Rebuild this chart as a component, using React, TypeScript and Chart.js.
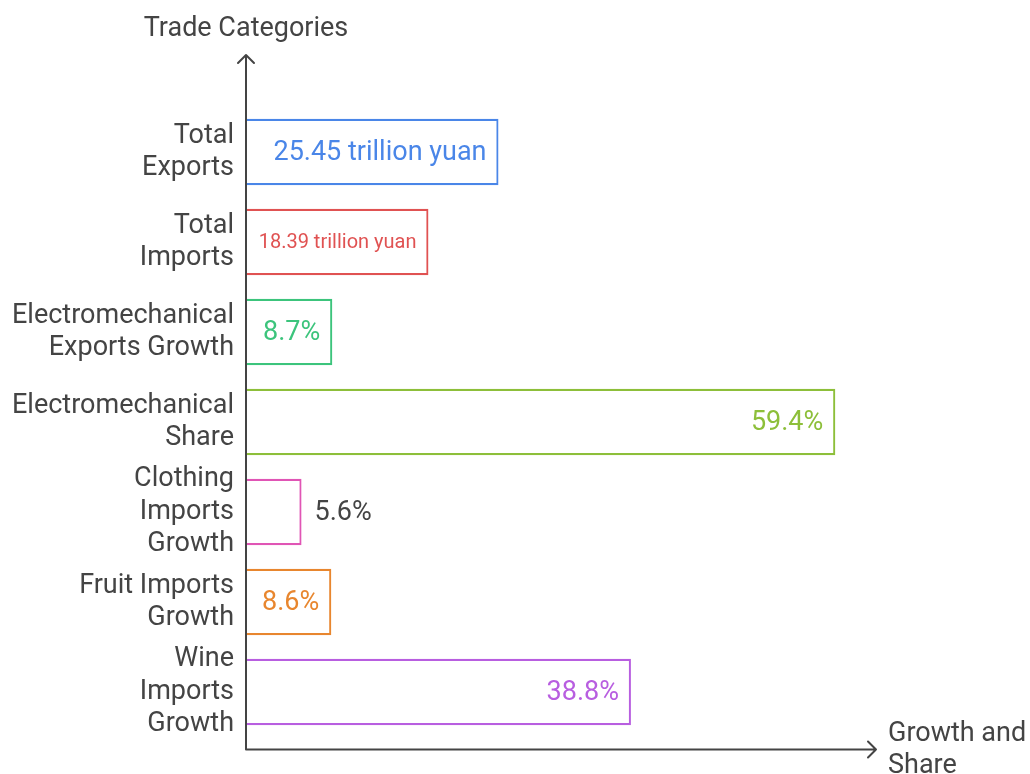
import React, { useEffect, useRef } from "react";
import { Chart, registerables } from "chart.js";

Chart.register(...registerables);

const categories: string[][] = [
  ["Total", "Exports"],
  ["Total", "Imports"],
  ["Electromechanical", "Exports Growth"],
  ["Electromechanical", "Share"],
  ["Clothing", "Imports", "Growth"],
  ["Fruit Imports", "Growth"],
  ["Wine", "Imports", "Growth"],
];
const values: number[] = [25.45, 18.39, 8.7, 59.4, 5.6, 8.6, 38.8];
const valueLabels: string[] = [
  "25.45 trillion yuan",
  "18.39 trillion yuan",
  "8.7%",
  "59.4%",
  "5.6%",
  "8.6%",
  "38.8%",
];
const barColors: string[] = [
  "#4a86e8",
  "#e05252",
  "#3cc47c",
  "#8dbf3a",
  "#e055b5",
  "#e8862e",
  "#b85ee0",
];
const yTitle = "Trade Categories";
const xTitle = ["Growth and", "Share"];

const FONT = "Roboto, 'Noto Sans', sans-serif";
const TEXT = "#444444";
const BASE = 27;
const MIN = 18;

const decorPlugin = {
  id: "decor",
  afterDatasetsDraw(chart: any) {
    const ctx = chart.ctx as CanvasRenderingContext2D;
    const area = chart.chartArea;
    const xScale = chart.scales.x;
    const meta = chart.getDatasetMeta(0);

    // value labels
    ctx.save();
    ctx.textBaseline = "middle";
    meta.data.forEach((bar: any, i: number) => {
      const label = valueLabels[i];
      const x0 = xScale.getPixelForValue(0);
      const x1 = bar.x;
      const w = x1 - x0;
      const pad = 12;
      let size = BASE;
      let placed = false;
      for (let s = BASE; s >= MIN; s -= 1) {
        ctx.font = `${s}px ${FONT}`;
        const tw = ctx.measureText(label).width;
        if (tw + 22 <= w) {
          size = s;
          placed = true;
          break;
        }
      }
      if (placed) {
        ctx.font = `${size}px ${FONT}`;
        ctx.fillStyle = barColors[i];
        ctx.textAlign = "right";
        ctx.fillText(label, x1 - pad, bar.y + 1);
      } else {
        ctx.font = `${BASE}px ${FONT}`;
        ctx.fillStyle = TEXT;
        ctx.textAlign = "left";
        ctx.fillText(label, x1 + pad + 1, bar.y + 1);
      }
    });
    ctx.restore();

    // axes with arrows
    const ax = area.left;
    const ay = area.bottom + 12.5;
    const topY = area.top - 52;
    const rightX = area.right;
    ctx.save();
    ctx.strokeStyle = TEXT;
    ctx.lineWidth = 2;
    ctx.lineCap = "round";
    ctx.lineJoin = "round";
    ctx.beginPath();
    ctx.moveTo(ax, ay);
    ctx.lineTo(ax, topY);
    ctx.moveTo(ax - 8, topY + 8);
    ctx.lineTo(ax, topY);
    ctx.lineTo(ax + 8, topY + 8);
    ctx.moveTo(ax, ay);
    ctx.lineTo(rightX, ay);
    ctx.moveTo(rightX - 8, ay - 8);
    ctx.lineTo(rightX, ay);
    ctx.lineTo(rightX - 8, ay + 8);
    ctx.stroke();

    // titles
    ctx.fillStyle = TEXT;
    ctx.font = `${BASE}px ${FONT}`;
    ctx.textBaseline = "middle";
    ctx.textAlign = "center";
    ctx.fillText(yTitle, ax, topY - 26);
    ctx.textAlign = "left";
    xTitle.forEach((line, k) => {
      ctx.fillText(line, rightX + 12, ay - 15 + k * 32);
    });
    ctx.restore();
  },
};

export default function App() {
  const ref = useRef<HTMLCanvasElement | null>(null);
  useEffect(() => {
    if (!ref.current) return;
    const chart = new Chart(ref.current, {
      type: "bar",
      data: {
        labels: categories as any,
        datasets: [
          {
            data: values,
            backgroundColor: "#ffffff",
            borderColor: barColors,
            borderWidth: 2.2,
            borderSkipped: "start",
            barPercentage: 0.74,
            categoryPercentage: 1,
          },
        ],
      },
      options: {
        indexAxis: "y",
        animation: false,
        responsive: false,
        devicePixelRatio: 1,
        layout: { padding: { left: 0, right: 154, top: 107, bottom: 37 } },
        plugins: {
          legend: { display: false },
          tooltip: { enabled: false },
          title: { display: false },
        },
        scales: {
          x: {
            type: "linear",
            min: 0,
            max: 63.5,
            display: false,
          },
          y: {
            type: "category",
            offset: true,
            grid: { display: false, drawTicks: false },
            border: { display: false },
            afterFit(scale: any) {
              scale.width = 246;
              scale.paddingTop = 0;
              scale.paddingBottom = 0;
            },
            ticks: {
              color: TEXT,
              padding: 12,
              autoSkip: false,
              font: { family: FONT, size: BASE, lineHeight: 1.2 },
            },
          },
        },
      },
      plugins: [decorPlugin],
    });
    return () => chart.destroy();
  }, []);
  return (
    <div style={{ position: "fixed", left: 0, top: 0, width: 1030, height: 774, background: "#ffffff" }}>
      <canvas ref={ref} width={1030} height={774} style={{ display: "block", width: 1030, height: 774 }} />
    </div>
  );
}
